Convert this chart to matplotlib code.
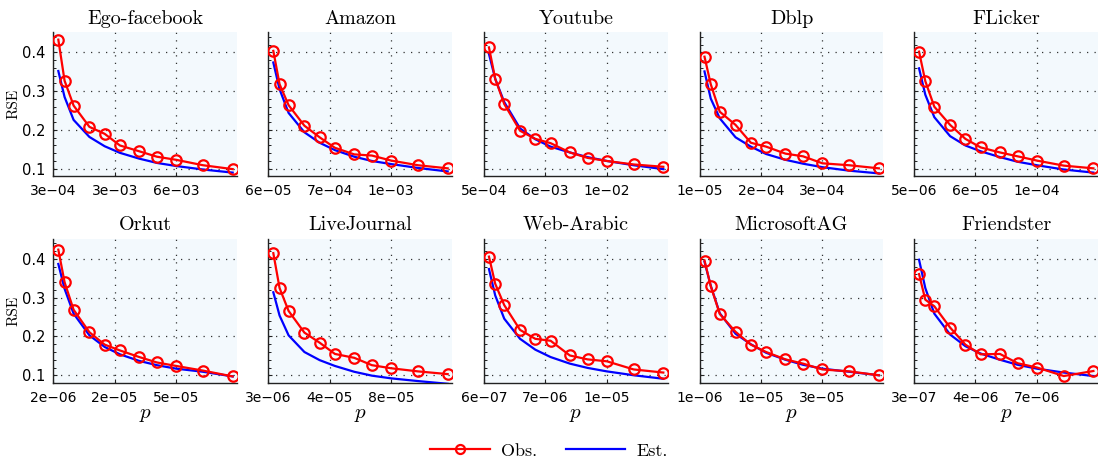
import matplotlib
matplotlib.use('Agg')
import matplotlib.pyplot as plt
from matplotlib.ticker import MultipleLocator

plt.rcParams['mathtext.fontset'] = 'cm'

# positions of the sampled p values along each (relative) x axis
pos = [0.027, 0.061, 0.110, 0.196, 0.279, 0.362, 0.467, 0.563, 0.668, 0.814, 0.975]

names = ['Ego-facebook', 'Amazon', 'Youtube', 'Dblp', 'FLicker',
         'Orkut', 'LiveJournal', 'Web-Arabic', 'MicrosoftAG', 'Friendster']

xlabels = [
    ['3e\u221204', '3e\u221203', '6e\u221203'],
    ['6e\u221205', '7e\u221204', '1e\u221203'],
    ['5e\u221204', '6e\u221203', '1e\u221202'],
    ['1e\u221205', '2e\u221204', '3e\u221204'],
    ['5e\u221206', '6e\u221205', '1e\u221204'],
    ['2e\u221206', '2e\u221205', '5e\u221205'],
    ['3e\u221206', '4e\u221205', '8e\u221205'],
    ['6e\u221207', '7e\u221206', '1e\u221205'],
    ['1e\u221206', '1e\u221205', '3e\u221205'],
    ['3e\u221207', '4e\u221206', '7e\u221206'],
]

obs = [
    [0.433, 0.327, 0.263, 0.208, 0.190, 0.160, 0.145, 0.131, 0.123, 0.109, 0.099],
    [0.404, 0.318, 0.264, 0.211, 0.181, 0.154, 0.137, 0.134, 0.121, 0.109, 0.101],
    [0.413, 0.332, 0.267, 0.198, 0.177, 0.166, 0.142, 0.128, 0.120, 0.111, 0.105],
    [0.389, 0.318, 0.247, 0.213, 0.167, 0.157, 0.139, 0.132, 0.114, 0.109, 0.101],
    [0.402, 0.326, 0.260, 0.213, 0.177, 0.155, 0.142, 0.132, 0.121, 0.108, 0.101],
    [0.424, 0.340, 0.269, 0.211, 0.179, 0.164, 0.147, 0.133, 0.124, 0.112, 0.097],
    [0.415, 0.325, 0.266, 0.210, 0.184, 0.155, 0.145, 0.126, 0.118, 0.110, 0.103],
    [0.406, 0.336, 0.281, 0.217, 0.194, 0.189, 0.151, 0.141, 0.136, 0.115, 0.107],
    [0.396, 0.330, 0.258, 0.212, 0.179, 0.160, 0.141, 0.130, 0.115, 0.110, 0.100],
    [0.361, 0.295, 0.278, 0.223, 0.179, 0.154, 0.155, 0.131, 0.120, 0.098, 0.111],
]

est = [
    [0.352, 0.285, 0.226, 0.182, 0.158, 0.141, 0.126, 0.115, 0.107, 0.098, 0.090],
    [0.374, 0.305, 0.244, 0.194, 0.167, 0.148, 0.131, 0.120, 0.112, 0.102, 0.093],
    [0.396, 0.332, 0.272, 0.204, 0.176, 0.157, 0.142, 0.130, 0.120, 0.109, 0.099],
    [0.351, 0.281, 0.230, 0.181, 0.157, 0.138, 0.123, 0.113, 0.104, 0.095, 0.088],
    [0.359, 0.291, 0.233, 0.184, 0.160, 0.145, 0.130, 0.118, 0.109, 0.098, 0.090],
    [0.387, 0.323, 0.259, 0.203, 0.173, 0.154, 0.137, 0.126, 0.117, 0.109, 0.097],
    [0.314, 0.254, 0.203, 0.160, 0.139, 0.124, 0.109, 0.099, 0.092, 0.085, 0.078],
    [0.374, 0.306, 0.246, 0.194, 0.166, 0.147, 0.130, 0.119, 0.110, 0.100, 0.091],
    [0.393, 0.331, 0.260, 0.207, 0.180, 0.158, 0.140, 0.127, 0.117, 0.109, 0.100],
    [0.398, 0.325, 0.259, 0.205, 0.175, 0.156, 0.140, 0.127, 0.117, 0.107, 0.098],
]

fig = plt.figure(figsize=(10.98, 4.61), dpi=100)

lefts = [0.0486, 0.2444, 0.4408, 0.6371, 0.8325]
bottoms = [0.618, 0.170]
w, h = 0.1675, 0.312

for i, name in enumerate(names):
    r, c = divmod(i, 5)
    ax = fig.add_axes([lefts[c], bottoms[r], w, h])
    ax.set_facecolor('#f3f9fd')
    ax.plot(pos, est[i], color='#0000ff', lw=1.6, zorder=3)
    ax.plot(pos, obs[i], color='#ff0000', lw=1.6, marker='o', ms=7.5,
            mfc='none', mec='#ff0000', mew=1.6, zorder=4)
    ax.set_xlim(0, 1)
    ax.set_ylim(0.081, 0.452)
    ax.set_xticks([0, 1/3, 2/3])
    ax.set_xticklabels(xlabels[i], fontsize=10, family='DejaVu Sans')
    ax.set_yticks([0.1, 0.2, 0.3, 0.4])
    ax.yaxis.set_minor_locator(MultipleLocator(0.02))
    if c == 0:
        ax.set_yticklabels(['0.1', '0.2', '0.3', '0.4'], fontsize=10.5,
                           family='DejaVu Sans')
        ax.set_ylabel('RSE', family='cmr10', fontsize=11, labelpad=1)
    else:
        ax.set_yticklabels([])
    ax.tick_params(direction='in', length=3, width=0.8, colors='#222222',
                   labelcolor='black', pad=6)
    ax.tick_params(which='minor', direction='in', length=2, width=0.6)
    ax.grid(True, color='#333333', linestyle=(0, (1, 5)), lw=0.9)
    for s in ['top', 'right']:
        ax.spines[s].set_visible(False)
    for s in ['left', 'bottom']:
        ax.spines[s].set_color('#222222')
        ax.spines[s].set_linewidth(1.0)
    ax.set_title(name, family='cmr10', fontsize=14.5, pad=6)
    if r == 1:
        ax.set_xlabel('$p$', fontsize=15, labelpad=-1)

handles = [
    plt.Line2D([], [], color='#ff0000', lw=1.6, marker='o', ms=6.5,
               mfc='none', mew=1.6),
    plt.Line2D([], [], color='#0000ff', lw=1.6),
]
fig.legend(handles, ['Obs.', 'Est.'], loc='lower center', ncol=2,
           frameon=False, bbox_to_anchor=(0.5, -0.03), handlelength=3.3,
           columnspacing=1.6, handletextpad=0.6,
           prop={'family': 'cmr10', 'size': 13})

fig.savefig('out.png', dpi=100)
